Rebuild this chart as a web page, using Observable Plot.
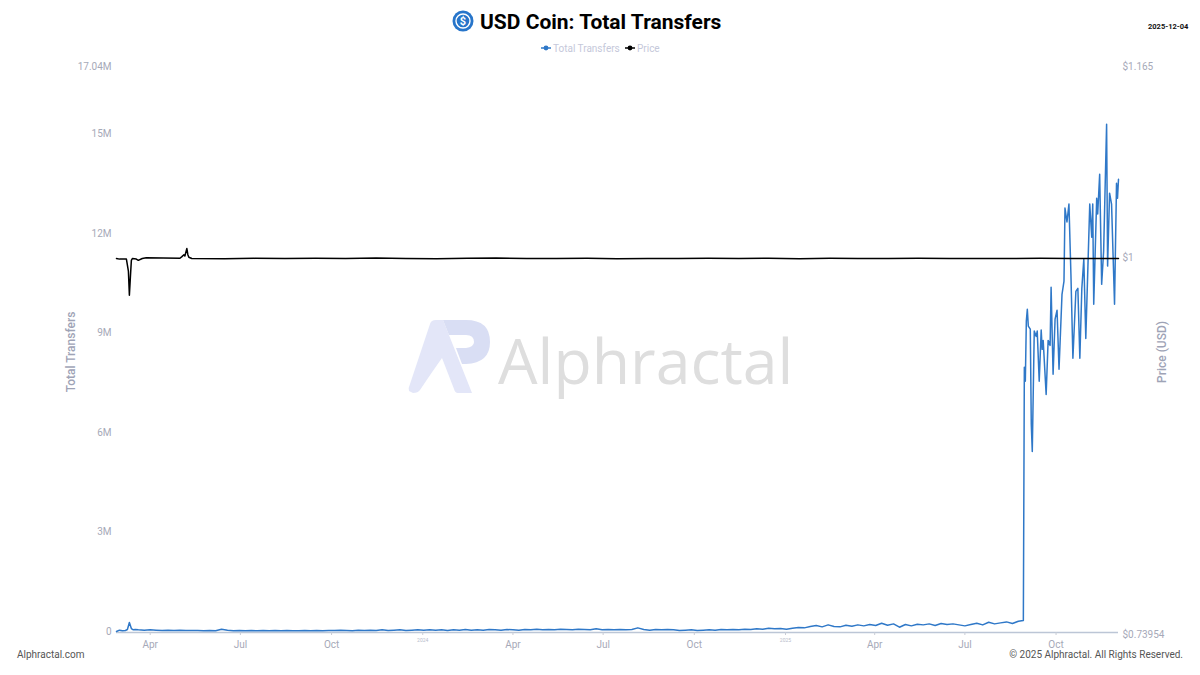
<!DOCTYPE html>
<html>
<head>
<meta charset="utf-8">
<script src="https://cdn.jsdelivr.net/npm/d3@7"></script>
<script src="https://cdn.jsdelivr.net/npm/@observablehq/plot@0.6"></script>
<style>
html,body{margin:0;padding:0;background:#fff;width:1200px;height:675px;overflow:hidden;font-family:Roboto,sans-serif}
.abs{position:absolute;white-space:nowrap;line-height:1}
#chart{position:absolute;left:0;top:0;z-index:2}
#chart svg{background:transparent;display:block}
</style>
</head>
<body>
<svg class="abs" style="left:400px;top:310px;z-index:1" width="100" height="90" viewBox="400 310 100 90">
  <path d="M409 391 Q408 388 410 384 L430 324 Q431 320 436 320 L443 320 L472 393 L458 393 Q455 393 454 389 L442 358 Q432 372 420 390 Q418 393 413 393 Z" fill="#e3e6f8"/>
  <path d="M443 320 L466 320 Q490 320 490 342 Q490 363 466 364 L462 364 L456 348 L466 348 Q474 347 474 342 Q474 335 466 335 L449 335 Z" fill="#d9def4"/>
</svg>
<div class="abs" style="left:498px;top:329px;font-size:62.6px;font-family:'Open Sans',sans-serif;font-weight:400;color:#dedede;z-index:1">Alphractal</div>

<svg class="abs" style="left:452px;top:10px" width="22" height="22" viewBox="0 0 22 22">
  <circle cx="11" cy="11" r="10.5" fill="#2775ca"/>
  <circle cx="11" cy="11" r="7" fill="none" stroke="#fff" stroke-width="1.4"/>
  <text x="11" y="15" text-anchor="middle" font-family="Roboto" font-weight="700" font-size="11" fill="#fff">$</text>
</svg>
<div class="abs" style="left:480px;top:12px;font-size:21px;font-weight:700;color:#000">USD Coin: Total Transfers</div>
<div class="abs" style="left:1148px;top:23px;font-size:7.5px;font-weight:700;color:#111">2025-12-04</div>

<svg class="abs" style="left:540px;top:44px" width="12" height="8"><line x1="1" x2="11" y1="4" y2="4" stroke="#2f78c8" stroke-width="1.5"/><circle cx="6" cy="4" r="2.4" fill="#2f78c8"/></svg>
<div class="abs" style="left:553px;top:44px;font-size:10px;color:#c5c8da">Total Transfers</div>
<svg class="abs" style="left:624px;top:44px" width="12" height="8"><line x1="1" x2="11" y1="4" y2="4" stroke="#000" stroke-width="1.5"/><circle cx="6" cy="4" r="2.4" fill="#000"/></svg>
<div class="abs" style="left:637px;top:44px;font-size:10px;color:#c5c8da">Price</div>

<div class="abs" style="left:17px;top:650px;font-size:10px;color:#555">Alphractal.com</div>
<div class="abs" style="right:17px;top:650px;font-size:10px;color:#555">© 2025 Alphractal. All Rights Reserved.</div>

<div id="chart"></div>
<script>
// Total transfers, in millions
const earlyDates = ["2023-02-26","2023-03-01","2023-03-04","2023-03-07","2023-03-09","2023-03-11","2023-03-13","2023-03-15","2023-03-17"];
const earlyValues = [0.03,0.07,0.05,0.06,0.09,0.30,0.12,0.08,0.09];

// Six-day readings from 2023-03-20, in hundredths of a million
const midStart = "2023-03-20";
const midValues = [
 8,7,8,7,6,7,6,7,6,6,
 6,5,6,5,10,7,5,6,5,6,
 5,6,5,6,5,6,5,5,6,5,
 6,5,6,6,7,6,5,7,6,7,
 6,8,6,7,8,6,7,8,7,8,
 7,8,6,8,7,9,7,8,7,9,
 8,7,9,8,7,9,8,10,8,9,
 8,10,9,8,10,9,8,11,8,9,
 8,9,8,9,14,9,7,9,8,9,
 8,6,7,8,6,7,8,7,9,8,
 9,8,10,9,11,10,13,11,12,10,
 13,15,14,18,21,17,23,18,17,22,
 19,23,20,24,21,28,22,26,16,24,
 20,25,23,26,21,27,24,26,23,20,
 24,28,23,31,26,29,32,27,34
];

const lateDates = ["2025-08-29","2025-08-30","2025-08-31","2025-09-01","2025-09-02","2025-09-03","2025-09-05","2025-09-06","2025-09-07","2025-09-09","2025-09-11","2025-09-12","2025-09-14","2025-09-16","2025-09-17","2025-09-18","2025-09-21","2025-09-23","2025-09-25","2025-09-26","2025-09-28","2025-09-30","2025-10-02","2025-10-04","2025-10-07","2025-10-09","2025-10-10","2025-10-12","2025-10-14","2025-10-16","2025-10-18","2025-10-21","2025-10-23","2025-10-25","2025-10-27","2025-10-29","2025-10-31","2025-11-04","2025-11-06","2025-11-07","2025-11-08","2025-11-11","2025-11-12","2025-11-14","2025-11-16","2025-11-18","2025-11-21","2025-11-22","2025-11-24","2025-11-26","2025-11-29","2025-12-01","2025-12-02","2025-12-03"];
const lateValues = [0.36,8.0,7.58,9.39,9.75,9.24,9.15,6.28,5.46,9.09,8.93,9.09,7.58,9.12,8.54,8.81,7.18,8.81,8.66,10.41,7.79,9.45,9.72,7.94,10.2,10.6,12.8,12.38,12.92,10.8,8.27,10.29,10.38,8.27,10.38,11.26,8.87,12.92,11.92,12.92,9.9,13.1,12.62,13.82,10.5,11.5,15.33,11.05,13.25,12.92,9.9,13.55,13.1,13.67];

// Price in USD
const priceDates = ["2023-02-26","2023-03-01","2023-03-08","2023-03-10","2023-03-11","2023-03-12","2023-03-13","2023-03-14","2023-03-18","2023-03-20","2023-03-24","2023-03-28","2023-05-01","2023-05-03","2023-05-05","2023-05-06","2023-05-08","2023-05-09","2023-05-10","2023-05-13","2023-06-15","2023-07-15","2023-08-15","2023-09-15","2023-10-15","2023-11-15","2023-12-15","2024-01-15","2024-02-15","2024-03-15","2024-04-15","2024-05-15","2024-06-15","2024-07-15","2024-08-15","2024-09-15","2024-10-15","2024-11-15","2024-12-15","2025-01-15","2025-02-15","2025-03-15","2025-04-15","2025-05-15","2025-06-15","2025-07-15","2025-08-15","2025-09-15","2025-10-15","2025-11-15","2025-12-03"];
const priceValues = [1.0,0.9995,0.9995,0.99,0.971,0.985,0.9985,1.0,0.9995,0.9985,1.0,1.0005,1.0002,1.0015,1.003,1.002,1.008,1.003,1.001,1.0,0.9998,1.0001,0.9999,1.0002,1.0,1.0003,1.0,0.9998,1.0001,1.0003,0.9999,1.0,1.0001,0.9998,1.0,0.9999,1.0001,1.0,1.0002,0.9998,1.0001,1.0,0.9999,1.0001,1.0,1.0,0.9999,1.0001,1.0,1.0,1.0];

const leftTicks = [0,3,6,9,12,15,17.04];
const leftTickLabels = ["0","3M","6M","9M","12M","15M","17.04M"];
const priceTicks = [0.73954,1,1.165];
const priceTickLabels = ["$0.73954","$1","$1.165"];
const monthTicks = ["2023-04-01","2023-07-01","2023-10-01","2024-04-01","2024-07-01","2024-10-01","2025-04-01","2025-07-01","2025-10-01"];
const monthLabels = ["Apr","Jul","Oct","Apr","Jul","Oct","Apr","Jul","Oct"];
const yearTicks = ["2024-01-01","2025-01-01"];
const yearLabels = ["2024","2025"];

const parse = d3.utcParse("%Y-%m-%d");
const midDates = midValues.map((_, i) => d3.utcDay.offset(parse(midStart), i * 6));
const transfers = [
  ...earlyDates.map((d, i) => ({date: parse(d), value: earlyValues[i]})),
  ...midValues.map((v, i) => ({date: midDates[i], value: v / 100})),
  ...lateDates.map((d, i) => ({date: parse(d), value: lateValues[i]}))
];
const price = priceDates.map((d, i) => ({date: parse(d), value: priceValues[i]}));

// The right axis is logarithmic and shares the plot's y position scale
const priceToLeft = d3.scaleLog().domain([0.73954, 1.165]).range([-0.1, 17.04]);

const axisColor = "#a6a9b8";
const font = "Roboto, sans-serif";
const plot = Plot.plot({
  width: 1200, height: 675,
  marginLeft: 116, marginRight: 82, marginTop: 67, marginBottom: 43,
  style: {background: "transparent", fontFamily: font},
  x: {type: "utc", domain: [parse("2023-02-26"), parse("2025-12-03")]},
  y: {domain: [0, 17.04]},
  marks: [
    Plot.ruleY([0], {stroke: "#bcc6d6", strokeWidth: 1.5}),
    Plot.axisX(monthTicks.map(parse), {
      anchor: "bottom", tickSize: 3, tickPadding: 5, stroke: "#c8ccd6", fill: axisColor,
      fontSize: 10, label: null,
      tickFormat: d => monthLabels[monthTicks.indexOf(d3.utcFormat("%Y-%m-%d")(d))]
    }),
    Plot.axisX(yearTicks.map(parse), {
      anchor: "bottom", tickSize: 3, tickPadding: 3, stroke: "#c8ccd6", fill: "#b8bccb",
      fontSize: 5, label: null,
      tickFormat: d => yearLabels[yearTicks.indexOf(d3.utcFormat("%Y-%m-%d")(d))]
    }),
    Plot.axisY(leftTicks, {
      anchor: "left", tickSize: 0, tickPadding: 5, dy: -1, fill: axisColor, fontSize: 10, label: null,
      tickFormat: d => leftTickLabels[leftTicks.indexOf(d)]
    }),
    Plot.text(priceTicks, {
      y: d => priceToLeft(d), text: (d, i) => priceTickLabels[i],
      frameAnchor: "right", dx: 4, dy: -1, textAnchor: "start", fill: axisColor, fontSize: 10
    }),
    Plot.text(["Total Transfers"], {
      frameAnchor: "left", dx: -45, dy: 2, rotate: -90, textAnchor: "middle", fill: "#9ea3b6", fontSize: 12, fontWeight: 500
    }),
    Plot.text(["Price (USD)"], {
      frameAnchor: "right", dx: 44, dy: 2, rotate: -90, textAnchor: "middle", fill: "#9ea3b6", fontSize: 12, fontWeight: 500
    }),
    Plot.line(transfers, {x: "date", y: "value", stroke: "#2f78c8", strokeWidth: 1.5, curve: "linear"}),
    Plot.line(price, {x: "date", y: d => priceToLeft(d.value), stroke: "#000", strokeWidth: 1.5, curve: "linear"})
  ]
});
document.getElementById("chart").appendChild(plot);
</script>
</body>
</html>
